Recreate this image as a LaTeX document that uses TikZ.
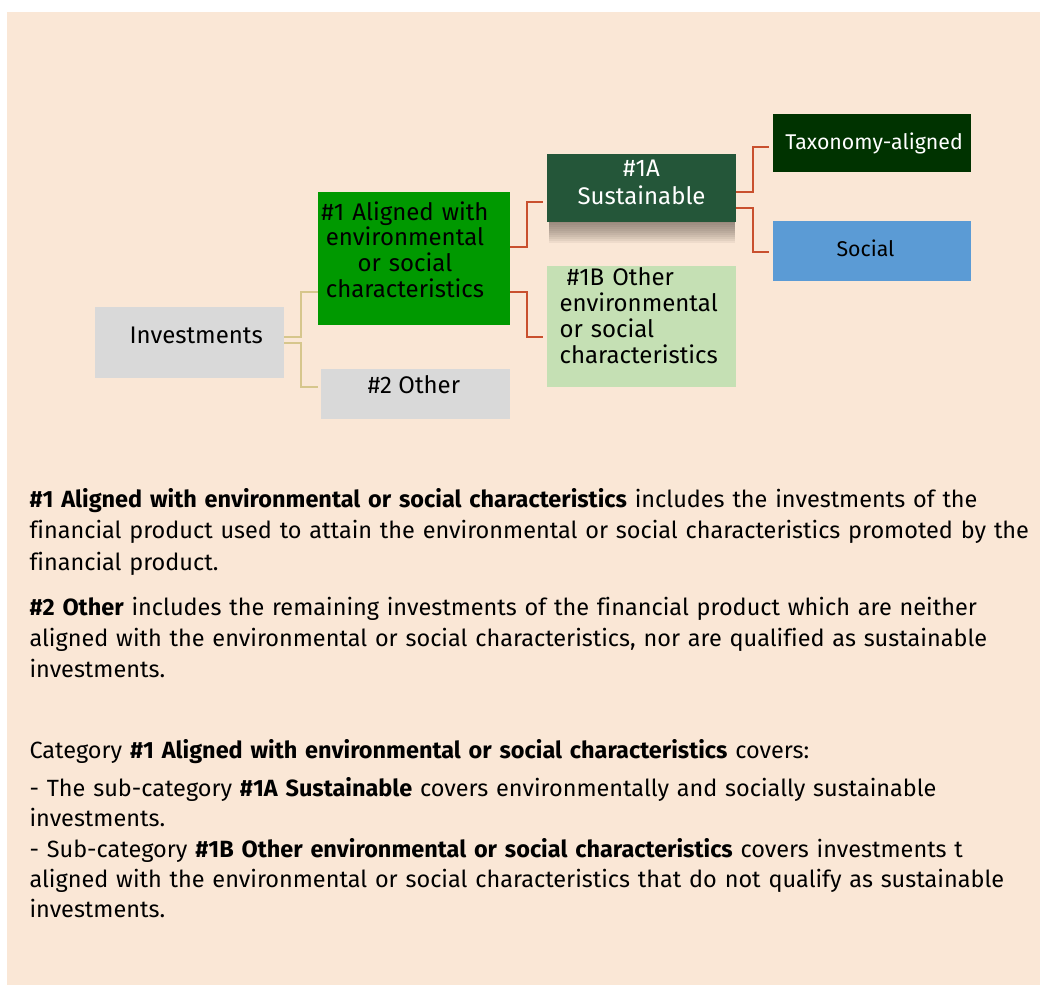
\documentclass[tikz,border=0pt]{standalone}
\usepackage{fontspec}
\setmainfont{Fira Sans}[Ligatures=NoCommon]
\definecolor{peach}{RGB}{250,231,214}
\definecolor{boxgrey}{RGB}{217,217,217}
\definecolor{alignedgreen}{RGB}{0,153,0}
\definecolor{sustgreen}{RGB}{36,86,57}
\definecolor{taxgreen}{RGB}{0,51,0}
\definecolor{socialblue}{RGB}{91,155,213}
\definecolor{lightgreen}{RGB}{197,224,180}
\definecolor{tanline}{RGB}{214,198,140}
\definecolor{redline}{RGB}{201,80,46}
\definecolor{shadowgrey}{RGB}{80,70,60}

\begin{document}
\begin{tikzpicture}[x=0.75pt,y=-0.75pt,
  box/.style={inner sep=0pt,minimum width=141.75pt},
  lbl/.style={inner sep=0pt,font=\fontsize{18}{19.4}\selectfont},
  small/.style={inner sep=0pt,font=\fontsize{16}{19}\selectfont},
  body/.style={inner sep=0pt,anchor=base west,align=left,text width=770pt,
    font=\fontsize{17.6}{23.6}\selectfont},
  tan/.style={draw=tanline,line width=1.5pt},
  red/.style={draw=redline,line width=1.5pt}]
   \useasboundingbox (0,0) rectangle (1040,985);
   \fill[white] (0,0) rectangle (1040,985);
   \fill[peach] (7,12) rectangle (1040,985);
   % shadow under #1A
   \foreach \h in {2,4,...,22} {
    \fill[shadowgrey,opacity=0.07] (549,221) rectangle (735,{221+\h});
   }
   \node[box,fill=boxgrey,minimum height=53.25pt] (inv) at (189.5,342.5) {};
   \node[box,fill=alignedgreen,minimum width=144pt,minimum height=99.75pt] (aligned) at (414,258.5) {};
   \node[box,fill=boxgrey,minimum height=37.5pt] (other) at (415.5,394) {};
   \node[box,fill=sustgreen,minimum height=51pt] (sust) at (641.5,188) {};
   \node[box,fill=lightgreen,minimum height=90.75pt] (onb) at (641.5,326.5) {};
   \node[box,fill=taxgreen,minimum width=148.5pt,minimum height=43.5pt] (tax) at (872,143) {};
   \node[box,fill=socialblue,minimum width=148.5pt,minimum height=45pt] (social) at (872,251) {};
   \node[lbl,anchor=base west] (invtxt) at (129.3,343.3) {Investments};
   \node[lbl,anchor=base,align=center,text width=142pt] (alignedtxt) at (405,220)
    {\#1 Aligned with\\environmental\\or social\\characteristics};
   \node[lbl,anchor=base] (othertxt) at (414,393.3) {\#2 Other};
   \node[lbl,anchor=base,align=center,text width=142pt,white,
    font=\fontsize{18}{20.5}\selectfont] (susttxt) at (641.5,176.7) {\#1A\\Sustainable};
   \node[lbl,anchor=base west,align=left,text width=142pt,
    font=\fontsize{18}{19.5}\selectfont] (onbtxt) at (559.3,285.7)
    {\hspace*{5.5pt}\#1B Other\\environmental\\or social\\characteristics};
   \node[small,anchor=base,white] (taxtxt) at (874,149.3) {Taxonomy-aligned};
   \node[small,anchor=base] (socialtxt) at (865.5,256.7) {Social};
   \draw[tan] ([shift={(0,-5.5)}]inv.east) -- ++(16.5,0) |- ([shift={(0,33.5)}]aligned.west);
   \draw[tan] (inv.east) -- ++(16.5,0) |- ([shift={(-3,-7.3)}]other.west);
   \draw[red] ([shift={(0,-11.8)}]aligned.east) -- ++(17,0) |- ([shift={(-3.7,13.7)}]sust.west);
   \draw[red] ([shift={(0,33.8)}]aligned.east) -- ++(17,0) |- ([shift={(-3.7,10.8)}]onb.west);
   \draw[red] ([shift={(0,3.7)}]sust.east) -- ++(16.7,0) |- ([shift={(-3.7,4.3)}]tax.west);
   \draw[red] ([shift={(0,19.7)}]sust.east) -- ++(16.7,0) |- ([shift={(-3.7,1.3)}]social.west);
   \node[body] (para1) at (29.3,507.3)
    {\textbf{\#1 Aligned with environmental or social characteristics} includes the investments of the\\
     financial product used to attain the environmental or social characteristics promoted by the\\
     financial product.};
   \node[body] (para2) at (29.3,615)
    {\textbf{\#2 Other} includes the remaining investments of the financial product which are neither\\
     aligned with the environmental or social characteristics, nor are qualified as sustainable\\
     investments.};
   \node[body] (cat) at (29.3,758.3)
    {Category \textbf{\#1 Aligned with environmental or social characteristics} covers:};
   \node[body,font=\fontsize{17.6}{22.7}\selectfont] (subcat) at (29.3,796.7)
    {- The sub-category \textbf{\#1A Sustainable} covers environmentally and socially sustainable\\
     investments.\\
     - Sub-category \textbf{\#1B Other environmental or social characteristics} covers investments t\\
     aligned with the environmental or social characteristics that do not qualify as sustainable\\
     investments.};
  \end{tikzpicture}
\end{document}
